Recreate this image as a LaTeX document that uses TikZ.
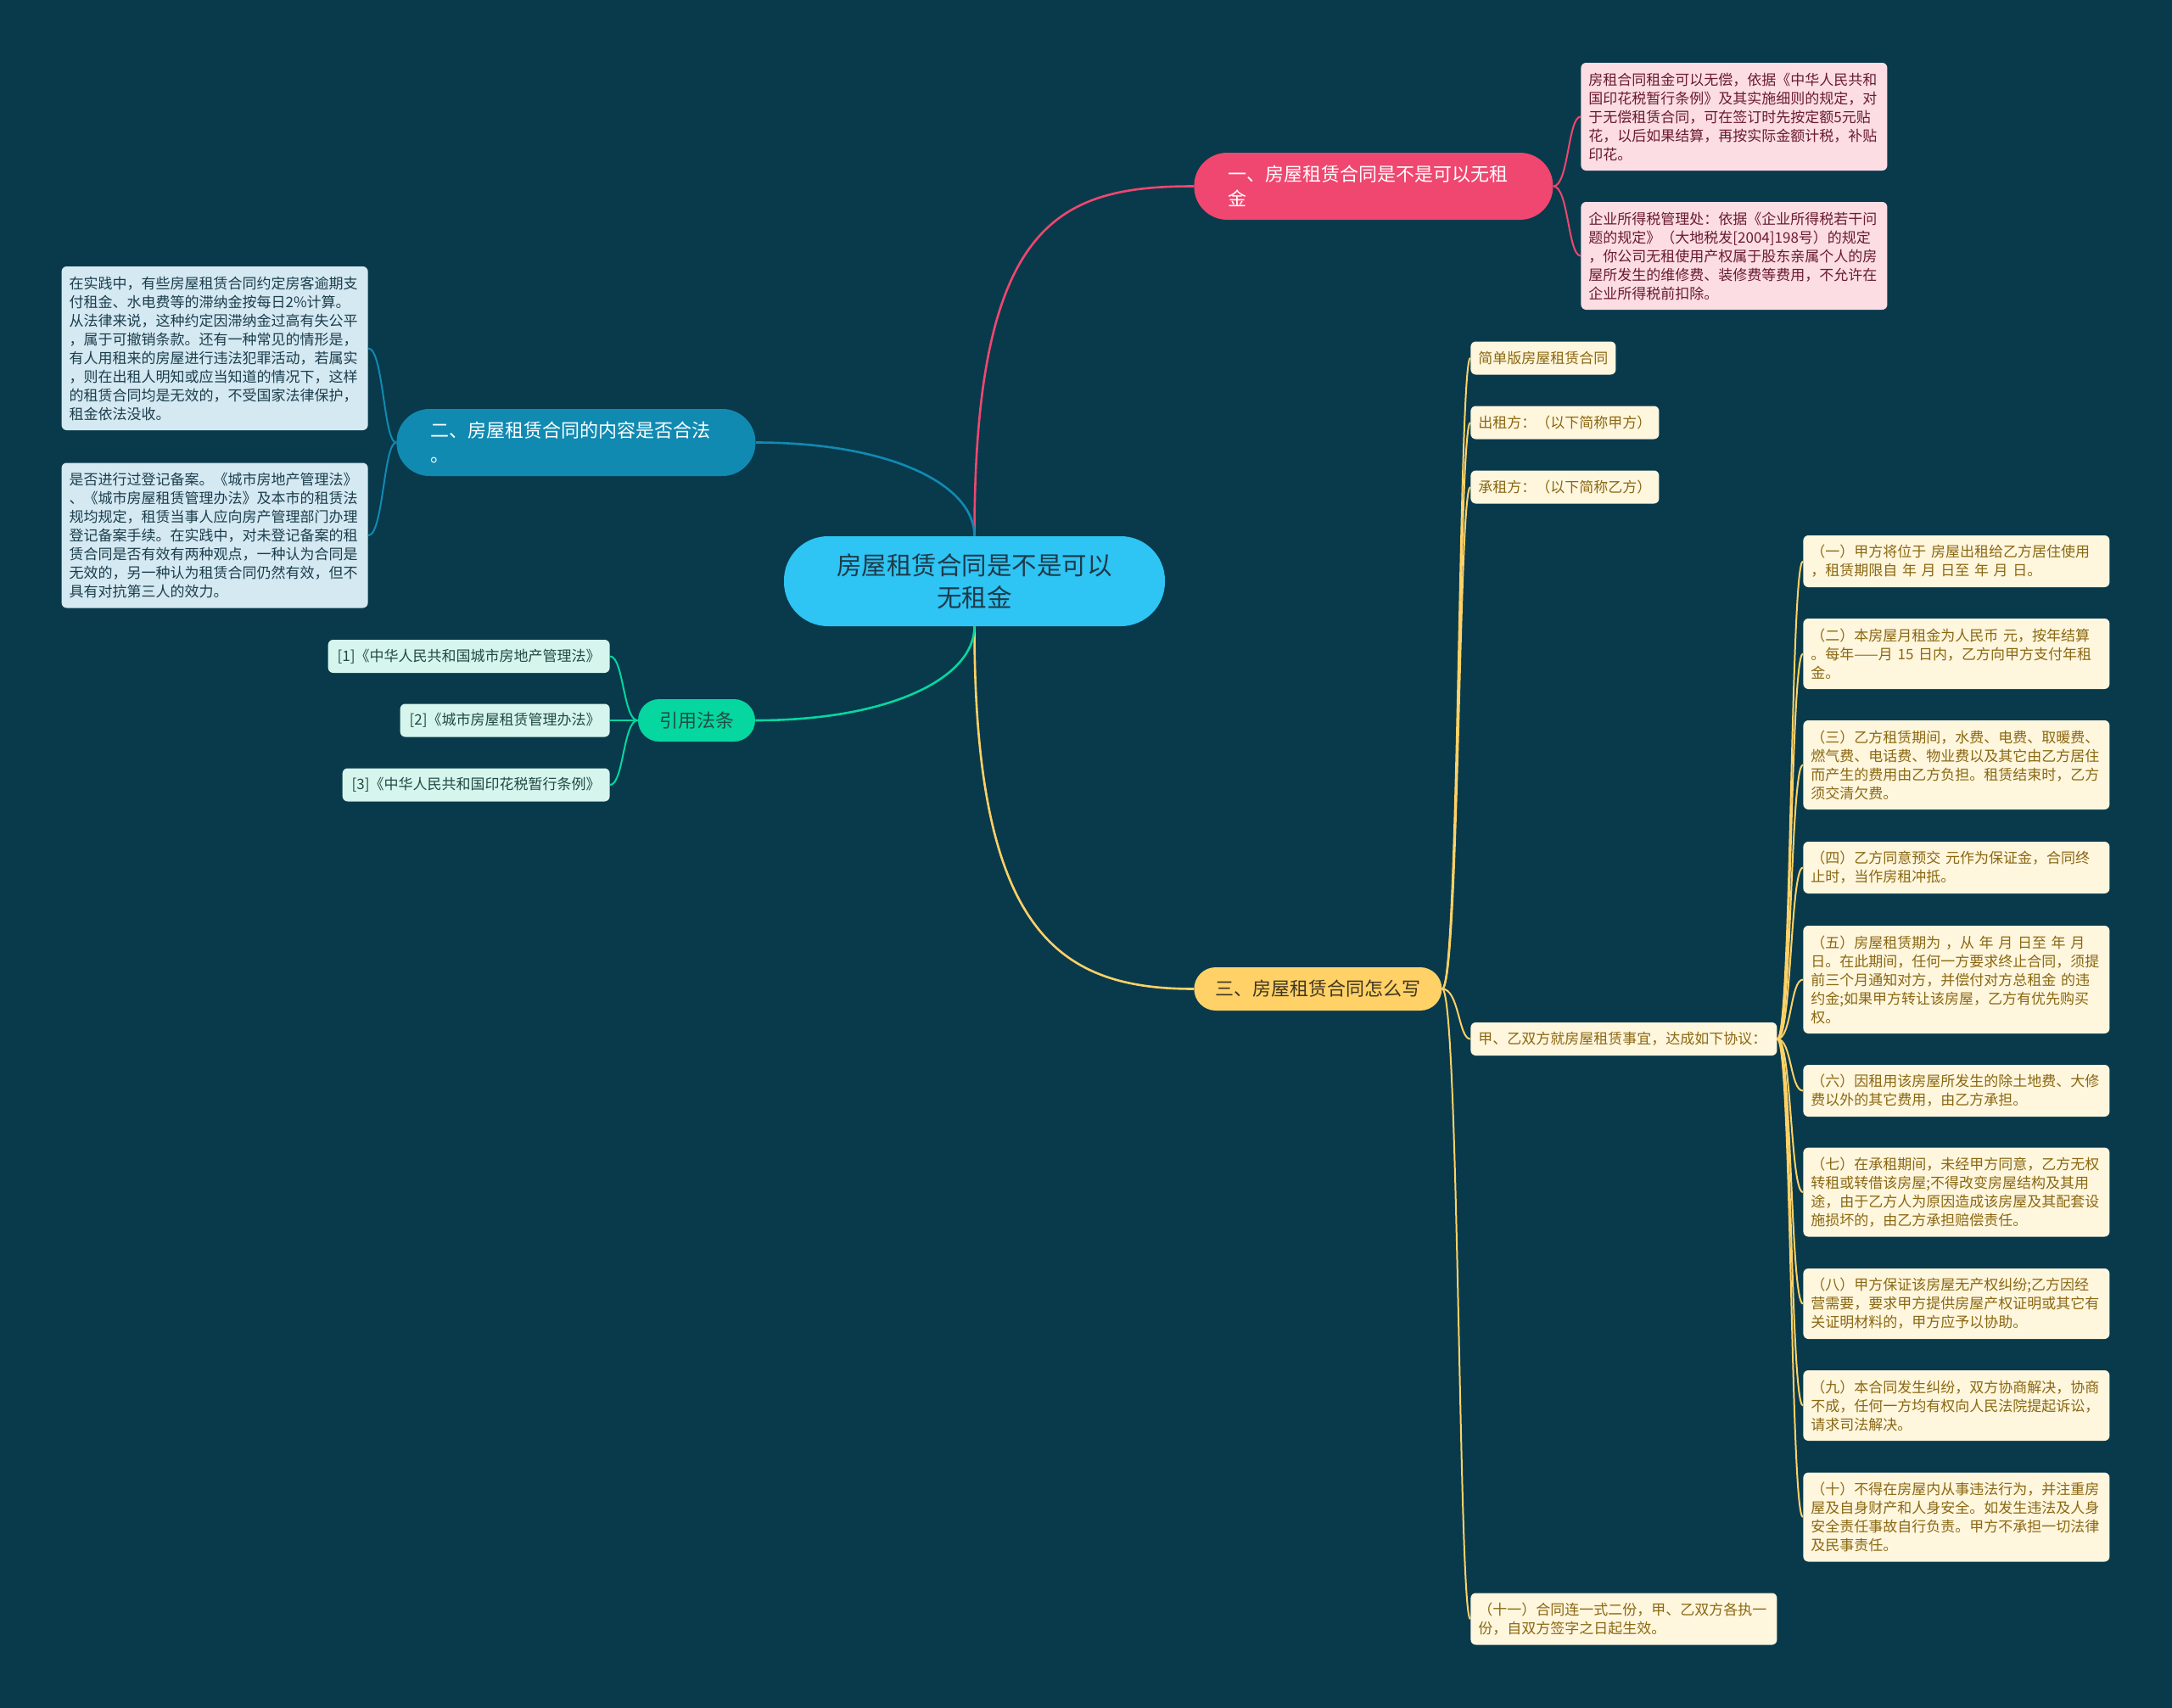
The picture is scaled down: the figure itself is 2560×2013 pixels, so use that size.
\documentclass[tikz,border=0pt]{standalone}
\usepackage{fontspec}
\setmainfont{Noto Sans CJK SC}
\usetikzlibrary{calc}
\definecolor{bg}{HTML}{083A4C}
\definecolor{rootfill}{HTML}{2EC4F3}
\definecolor{roottext}{HTML}{1E3A4A}
\definecolor{pinkc}{HTML}{EF476F}
\definecolor{bluec}{HTML}{118AB2}
\definecolor{greenc}{HTML}{06D6A0}
\definecolor{yelc}{HTML}{FFD166}
\definecolor{pinkfill}{HTML}{FCDDE4}
\definecolor{pinktext}{HTML}{6A1B2E}
\definecolor{bluefill}{HTML}{D4E9F2}
\definecolor{bluetext}{HTML}{1C3D4C}
\definecolor{lawfill}{HTML}{D5F5ED}
\definecolor{lawtext}{HTML}{214A42}
\definecolor{creamfill}{HTML}{FFF6DE}
\definecolor{creamtext}{HTML}{8A6812}
\definecolor{ytext}{HTML}{3F3622}
\definecolor{gtext}{HTML}{1F4E44}
\newcommand\mysmall{\fontsize{8.5pt}{11pt}\selectfont}
\newcommand\mymid{\fontsize{11pt}{14.5pt}\selectfont}
\newcommand\mybig{\fontsize{14.75pt}{19pt}\selectfont}
\tikzset{
  sbox/.style={rectangle, rounded corners=3pt, inner xsep=4.5pt, inner ysep=1pt, font=\mysmall, align=left},
  wbox/.style={sbox, text width=171.5pt},
  pinkbox/.style={wbox, fill=pinkfill, text=pinktext, anchor=west},
  bluebox/.style={wbox, fill=bluefill, text=bluetext, anchor=east},
  creambox/.style={sbox, fill=creamfill, text=creamtext, anchor=west, minimum height=19.5pt},
  creamw/.style={wbox, fill=creamfill, text=creamtext, anchor=west},
  lawbox/.style={sbox, inner xsep=5.5pt, fill=lawfill, text=lawtext, minimum height=19.5pt, anchor=east},
  pill/.style={rectangle, font=\mymid, inner ysep=1pt},
  widepill/.style={pill, text width=171.5pt, inner xsep=20pt, minimum height=39.5pt, rounded corners=19.5pt, anchor=west, align=left, text=white},
  mainline/.style={line width=1.3pt},
  subline/.style={line width=1pt},
}
\begin{document}
\begin{tikzpicture}[x=0.5pt,y=-0.5pt]
\useasboundingbox (0,0) rectangle (2560,2013);
\fill[bg] (0,0) rectangle (2560,2013);

% root
\node[rectangle, fill=rootfill, text=roottext, rounded corners=26pt, minimum width=224.5pt, minimum height=53pt, font=\mybig, align=center, inner sep=2pt] (root) at (1148.5,685) {房屋租赁合同是不是可以\\无租金};

% main branches
\node[widepill, fill=pinkc] (b1) at (1407,219.5) {一、房屋租赁合同是不是可以无租\\金};
\node[widepill, fill=bluec] (b2) at (467,521.5) {二、房屋租赁合同的内容是否合法\\。};
\node[pill, fill=yelc, text=ytext, minimum width=146pt, minimum height=25.5pt, rounded corners=12.75pt, anchor=west] (b3) at (1407,1165.5) {三、房屋租赁合同怎么写};
\node[pill, fill=greenc, text=gtext, minimum width=69pt, minimum height=25pt, rounded corners=12.5pt] (b4) at (821,849) {引用法条};

% pink children
\node[pinkbox, minimum height=63.5pt] (p1) at (1863,137.5) {房租合同租金可以无偿，依据《中华人民共和\\国印花税暂行条例》及其实施细则的规定，对\\于无偿租赁合同，可在签订时先按定额5元贴\\花，以后如果结算，再按实际金额计税，补贴\\印花。};
\node[pinkbox, minimum height=63.5pt] (p2) at (1863,301.5) {企业所得税管理处：依据《企业所得税若干问\\题的规定》（大地税发[2004]198号）的规定\\，你公司无租使用产权属于股东亲属个人的房\\屋所发生的维修费、装修费等费用，不允许在\\企业所得税前扣除。};

% blue children
\node[bluebox, minimum height=96.5pt] (q1) at (434,410.5) {在实践中，有些房屋租赁合同约定房客逾期支\\付租金、水电费等的滞纳金按每日2\%计算。\\从法律来说，这种约定因滞纳金过高有失公平\\，属于可撤销条款。还有一种常见的情形是，\\有人用租来的房屋进行违法犯罪活动，若属实\\，则在出租人明知或应当知道的情况下，这样\\的租赁合同均是无效的，不受国家法律保护，\\租金依法没收。};
\node[bluebox, minimum height=85.5pt] (q2) at (434,631) {是否进行过登记备案。《城市房地产管理法》\\、《城市房屋租赁管理办法》及本市的租赁法\\规均规定，租赁当事人应向房产管理部门办理\\登记备案手续。在实践中，对未登记备案的租\\赁合同是否有效有两种观点，一种认为合同是\\无效的，另一种认为租赁合同仍然有效，但不\\具有对抗第三人的效力。};

% law refs
\node[lawbox] (l1) at (719,773.5) {[1]《中华人民共和国城市房地产管理法》};
\node[lawbox] (l2) at (719,849) {[2]《城市房屋租赁管理办法》};
\node[lawbox] (l3) at (719,925) {[3]《中华人民共和国印花税暂行条例》};

% yellow children
\node[creambox] (y1) at (1733,422) {简单版房屋租赁合同};
\node[creambox] (y2) at (1733,498) {出租方：（以下简称甲方）};
\node[creambox] (y3) at (1733,574) {承租方：（以下简称乙方）};
\node[creamw, minimum height=19.5pt] (y4) at (1733,1224.5) {甲、乙双方就房屋租赁事宜，达成如下协议：};
\node[creamw, minimum height=30.5pt] (y5) at (1733,1908) {（十一）合同连一式二份，甲、乙双方各执一\\份，自双方签字之日起生效。};

% numbered items
\node[creamw, minimum height=30.5pt] (n1) at (2125,661.5) {（一）甲方将位于 房屋出租给乙方居住使用\\，租赁期限自 年 月 日至 年 月 日。};
\node[creamw, minimum height=41.5pt] (n2) at (2125,770.5) {（二）本房屋月租金为人民币 元，按年结算\\。每年——月 15 日内，乙方向甲方支付年租\\金。};
\node[creamw, minimum height=52.5pt] (n3) at (2125,901.5) {（三）乙方租赁期间，水费、电费、取暖费、\\燃气费、电话费、物业费以及其它由乙方居住\\而产生的费用由乙方负担。租赁结束时，乙方\\须交清欠费。};
\node[creamw, minimum height=30.5pt] (n4) at (2125,1022.5) {（四）乙方同意预交 元作为保证金，合同终\\止时，当作房租冲抵。};
\node[creamw, minimum height=63.5pt] (n5) at (2125,1154.5) {（五）房屋租赁期为 ，从 年 月 日至 年 月\\日。在此期间，任何一方要求终止合同，须提\\前三个月通知对方，并偿付对方总租金 的违\\约金;如果甲方转让该房屋，乙方有优先购买\\权。};
\node[creamw, minimum height=30.5pt] (n6) at (2125,1285.5) {（六）因租用该房屋所发生的除土地费、大修\\费以外的其它费用，由乙方承担。};
\node[creamw, minimum height=52.5pt] (n7) at (2125,1405) {（七）在承租期间，未经甲方同意，乙方无权\\转租或转借该房屋;不得改变房屋结构及其用\\途，由于乙方人为原因造成该房屋及其配套设\\施损坏的，由乙方承担赔偿责任。};
\node[creamw, minimum height=41.5pt] (n8) at (2125,1536.5) {（八）甲方保证该房屋无产权纠纷;乙方因经\\营需要，要求甲方提供房屋产权证明或其它有\\关证明材料的，甲方应予以协助。};
\node[creamw, minimum height=41.5pt] (n9) at (2125,1656.5) {（九）本合同发生纠纷，双方协商解决，协商\\不成，任何一方均有权向人民法院提起诉讼，\\请求司法解决。};
\node[creamw, minimum height=52.5pt] (n10) at (2125,1788) {（十）不得在房屋内从事违法行为，并注重房\\屋及自身财产和人身安全。如发生违法及人身\\安全责任事故自行负责。甲方不承担一切法律\\及民事责任。};

% main connectors
\draw[mainline, pinkc] (root.north) .. controls ($(root.north)+(0,-370)$) and ($(b1.west)+(-160,0)$) .. (b1.west);
\draw[mainline, yelc] (root.south) .. controls ($(root.south)+(0,360)$) and ($(b3.west)+(-160,0)$) .. (b3.west);
\draw[mainline, bluec] (b2.east) .. controls ($(b2.east)+(160,0)$) and ($(root.north)+(0,-60)$) .. (root.north);
\draw[mainline, greenc] (b4.east) .. controls ($(b4.east)+(160,0)$) and ($(root.south)+(0,60)$) .. (root.south);

% sub connectors
\foreach \c in {p1,p2}
  \draw[subline, pinkc] (b1.east) .. controls ($(b1.east)+(18,0)$) and ($(\c.west)+(-15,0)$) .. (\c.west);
\foreach \c in {q1,q2}
  \draw[subline, bluec] (b2.west) .. controls ($(b2.west)+(-15,0)$) and ($(\c.east)+(18,0)$) .. (\c.east);
\foreach \c in {l1,l2,l3}
  \draw[subline, greenc] (b4.west) .. controls ($(b4.west)+(-17,0)$) and ($(\c.east)+(16,0)$) .. (\c.east);
\foreach \c in {y1,y2,y3,y4,y5}
  \draw[subline, yelc] (b3.east) .. controls ($(b3.east)+(20,0)$) and ($(\c.west)+(-14,0)$) .. (\c.west);
\foreach \c in {n1,n2,n3,n4,n5,n6,n7,n8,n9,n10}
  \draw[subline, yelc] (y4.east) .. controls ($(y4.east)+(17,0)$) and ($(\c.west)+(-15,0)$) .. (\c.west);
\end{tikzpicture}
\end{document}
